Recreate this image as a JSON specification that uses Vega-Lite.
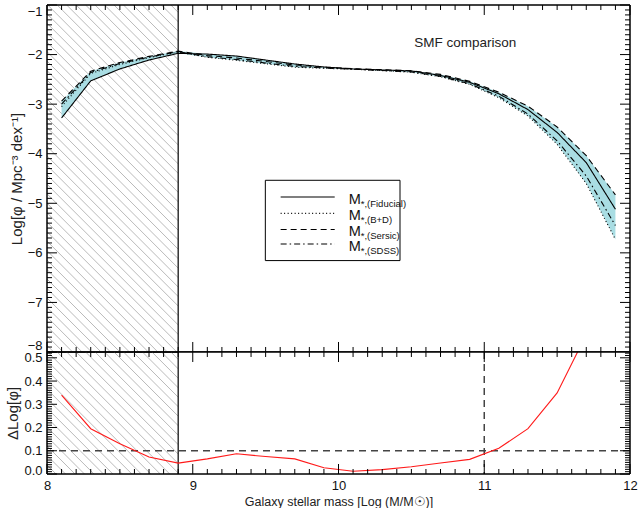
{
  "$schema": "https://vega.github.io/schema/vega-lite/v6.json",
  "background": "white",
  "padding": {"left": 5, "top": 4, "right": 8, "bottom": 0},
  "spacing": 0,
  "bounds": "flush",
  "config": {
    "font": "Liberation Sans",
    "view": {"stroke": null},
    "axis": {
      "domain": false,
      "ticks": false,
      "labelFont": "Liberation Sans",
      "labelFontSize": 13,
      "labelColor": "#111",
      "titleFont": "Liberation Sans",
      "titleFontSize": 15,
      "titleFontWeight": "normal",
      "titleColor": "#222",
      "grid": false,
      "labelOverlap": false,
      "labelFlush": false
    },
    "rule": {"color": "#000", "strokeWidth": 1}
  },
  "datasets": {
    "smf": [
      {"mass": 8.1, "model": "Fiducial", "logphi": -3.28},
      {"mass": 8.3, "model": "Fiducial", "logphi": -2.53},
      {"mass": 8.5, "model": "Fiducial", "logphi": -2.29},
      {"mass": 8.7, "model": "Fiducial", "logphi": -2.11},
      {"mass": 8.9, "model": "Fiducial", "logphi": -1.975},
      {"mass": 9.1, "model": "Fiducial", "logphi": -1.99},
      {"mass": 9.3, "model": "Fiducial", "logphi": -2.03},
      {"mass": 9.5, "model": "Fiducial", "logphi": -2.11},
      {"mass": 9.7, "model": "Fiducial", "logphi": -2.19},
      {"mass": 9.9, "model": "Fiducial", "logphi": -2.25},
      {"mass": 10.1, "model": "Fiducial", "logphi": -2.29},
      {"mass": 10.3, "model": "Fiducial", "logphi": -2.31},
      {"mass": 10.5, "model": "Fiducial", "logphi": -2.33},
      {"mass": 10.7, "model": "Fiducial", "logphi": -2.42},
      {"mass": 10.9, "model": "Fiducial", "logphi": -2.56},
      {"mass": 11.1, "model": "Fiducial", "logphi": -2.79},
      {"mass": 11.3, "model": "Fiducial", "logphi": -3.11},
      {"mass": 11.5, "model": "Fiducial", "logphi": -3.57},
      {"mass": 11.7, "model": "Fiducial", "logphi": -4.18},
      {"mass": 11.9, "model": "Fiducial", "logphi": -5.12},
      {"mass": 8.1, "model": "B+D", "logphi": -3.05},
      {"mass": 8.3, "model": "B+D", "logphi": -2.38},
      {"mass": 8.5, "model": "B+D", "logphi": -2.2},
      {"mass": 8.7, "model": "B+D", "logphi": -2.06},
      {"mass": 8.9, "model": "B+D", "logphi": -1.95},
      {"mass": 9.1, "model": "B+D", "logphi": -2.055},
      {"mass": 9.3, "model": "B+D", "logphi": -2.117},
      {"mass": 9.5, "model": "B+D", "logphi": -2.185},
      {"mass": 9.7, "model": "B+D", "logphi": -2.255},
      {"mass": 9.9, "model": "B+D", "logphi": -2.277},
      {"mass": 10.1, "model": "B+D", "logphi": -2.297},
      {"mass": 10.3, "model": "B+D", "logphi": -2.324},
      {"mass": 10.5, "model": "B+D", "logphi": -2.356},
      {"mass": 10.7, "model": "B+D", "logphi": -2.447},
      {"mass": 10.9, "model": "B+D", "logphi": -2.6},
      {"mass": 11.1, "model": "B+D", "logphi": -2.87},
      {"mass": 11.3, "model": "B+D", "logphi": -3.24},
      {"mass": 11.5, "model": "B+D", "logphi": -3.81},
      {"mass": 11.7, "model": "B+D", "logphi": -4.6},
      {"mass": 11.9, "model": "B+D", "logphi": -5.73},
      {"mass": 8.1, "model": "Sersic", "logphi": -2.94},
      {"mass": 8.3, "model": "Sersic", "logphi": -2.335},
      {"mass": 8.5, "model": "Sersic", "logphi": -2.16},
      {"mass": 8.7, "model": "Sersic", "logphi": -2.037},
      {"mass": 8.9, "model": "Sersic", "logphi": -1.93},
      {"mass": 9.1, "model": "Sersic", "logphi": -2.02},
      {"mass": 9.3, "model": "Sersic", "logphi": -2.07},
      {"mass": 9.5, "model": "Sersic", "logphi": -2.14},
      {"mass": 9.7, "model": "Sersic", "logphi": -2.21},
      {"mass": 9.9, "model": "Sersic", "logphi": -2.255},
      {"mass": 10.1, "model": "Sersic", "logphi": -2.285},
      {"mass": 10.3, "model": "Sersic", "logphi": -2.305},
      {"mass": 10.5, "model": "Sersic", "logphi": -2.325},
      {"mass": 10.7, "model": "Sersic", "logphi": -2.4},
      {"mass": 10.9, "model": "Sersic", "logphi": -2.54},
      {"mass": 11.1, "model": "Sersic", "logphi": -2.76},
      {"mass": 11.3, "model": "Sersic", "logphi": -3.04},
      {"mass": 11.5, "model": "Sersic", "logphi": -3.46},
      {"mass": 11.7, "model": "Sersic", "logphi": -4.04},
      {"mass": 11.9, "model": "Sersic", "logphi": -4.83},
      {"mass": 8.1, "model": "SDSS", "logphi": -3.0},
      {"mass": 8.3, "model": "SDSS", "logphi": -2.36},
      {"mass": 8.5, "model": "SDSS", "logphi": -2.18},
      {"mass": 8.7, "model": "SDSS", "logphi": -2.05},
      {"mass": 8.9, "model": "SDSS", "logphi": -1.94},
      {"mass": 9.1, "model": "SDSS", "logphi": -2.045},
      {"mass": 9.3, "model": "SDSS", "logphi": -2.1},
      {"mass": 9.5, "model": "SDSS", "logphi": -2.17},
      {"mass": 9.7, "model": "SDSS", "logphi": -2.24},
      {"mass": 9.9, "model": "SDSS", "logphi": -2.27},
      {"mass": 10.1, "model": "SDSS", "logphi": -2.295},
      {"mass": 10.3, "model": "SDSS", "logphi": -2.32},
      {"mass": 10.5, "model": "SDSS", "logphi": -2.35},
      {"mass": 10.7, "model": "SDSS", "logphi": -2.44},
      {"mass": 10.9, "model": "SDSS", "logphi": -2.59},
      {"mass": 11.1, "model": "SDSS", "logphi": -2.84},
      {"mass": 11.3, "model": "SDSS", "logphi": -3.2},
      {"mass": 11.5, "model": "SDSS", "logphi": -3.74},
      {"mass": 11.7, "model": "SDSS", "logphi": -4.45},
      {"mass": 11.9, "model": "SDSS", "logphi": -5.45}
    ],
    "delta": [
      {"mass": 8.1, "dlog": 0.339},
      {"mass": 8.3, "dlog": 0.195},
      {"mass": 8.5, "dlog": 0.13},
      {"mass": 8.7, "dlog": 0.073},
      {"mass": 8.9, "dlog": 0.047},
      {"mass": 9.1, "dlog": 0.065},
      {"mass": 9.3, "dlog": 0.087},
      {"mass": 9.5, "dlog": 0.075},
      {"mass": 9.7, "dlog": 0.065},
      {"mass": 9.9, "dlog": 0.027},
      {"mass": 10.1, "dlog": 0.012},
      {"mass": 10.3, "dlog": 0.019},
      {"mass": 10.5, "dlog": 0.031},
      {"mass": 10.7, "dlog": 0.047},
      {"mass": 10.9, "dlog": 0.063},
      {"mass": 11.1, "dlog": 0.111},
      {"mass": 11.3, "dlog": 0.195},
      {"mass": 11.5, "dlog": 0.349},
      {"mass": 11.7, "dlog": 0.6}
    ],
    "hatch": [
      {"h": 5.6}, {"h": 5.665}, {"h": 5.73}, {"h": 5.795}, {"h": 5.86}, {"h": 5.925}, {"h": 5.99},
      {"h": 6.055}, {"h": 6.12}, {"h": 6.185}, {"h": 6.25}, {"h": 6.315}, {"h": 6.38}, {"h": 6.445},
      {"h": 6.51}, {"h": 6.575}, {"h": 6.64}, {"h": 6.705}, {"h": 6.77}, {"h": 6.835}, {"h": 6.9},
      {"h": 6.965}, {"h": 7.03}, {"h": 7.095}, {"h": 7.16}, {"h": 7.225}, {"h": 7.29}, {"h": 7.355},
      {"h": 7.42}, {"h": 7.485}, {"h": 7.55}, {"h": 7.615}, {"h": 7.68}, {"h": 7.745}, {"h": 7.81},
      {"h": 7.875}, {"h": 7.94}, {"h": 8.005}, {"h": 8.07}, {"h": 8.135}, {"h": 8.2}, {"h": 8.265},
      {"h": 8.33}, {"h": 8.395}, {"h": 8.46}, {"h": 8.525}, {"h": 8.59}, {"h": 8.655}, {"h": 8.72},
      {"h": 8.785}, {"h": 8.85}
    ],
    "xmaj": [{"v": 8}, {"v": 9}, {"v": 10}, {"v": 11}, {"v": 12}],
    "xmin": [
      {"v": 8.1}, {"v": 8.2}, {"v": 8.3}, {"v": 8.4}, {"v": 8.5}, {"v": 8.6}, {"v": 8.7}, {"v": 8.8}, {"v": 8.9},
      {"v": 9.1}, {"v": 9.2}, {"v": 9.3}, {"v": 9.4}, {"v": 9.5}, {"v": 9.6}, {"v": 9.7}, {"v": 9.8}, {"v": 9.9},
      {"v": 10.1}, {"v": 10.2}, {"v": 10.3}, {"v": 10.4}, {"v": 10.5}, {"v": 10.6}, {"v": 10.7}, {"v": 10.8}, {"v": 10.9},
      {"v": 11.1}, {"v": 11.2}, {"v": 11.3}, {"v": 11.4}, {"v": 11.5}, {"v": 11.6}, {"v": 11.7}, {"v": 11.8}, {"v": 11.9}
    ],
    "ymaj": [{"v": -1}, {"v": -2}, {"v": -3}, {"v": -4}, {"v": -5}, {"v": -6}, {"v": -7}, {"v": -8}],
    "ymin": [
      {"v": -1.1}, {"v": -1.2}, {"v": -1.3}, {"v": -1.4}, {"v": -1.5}, {"v": -1.6}, {"v": -1.7}, {"v": -1.8}, {"v": -1.9},
      {"v": -2.1}, {"v": -2.2}, {"v": -2.3}, {"v": -2.4}, {"v": -2.5}, {"v": -2.6}, {"v": -2.7}, {"v": -2.8}, {"v": -2.9},
      {"v": -3.1}, {"v": -3.2}, {"v": -3.3}, {"v": -3.4}, {"v": -3.5}, {"v": -3.6}, {"v": -3.7}, {"v": -3.8}, {"v": -3.9},
      {"v": -4.1}, {"v": -4.2}, {"v": -4.3}, {"v": -4.4}, {"v": -4.5}, {"v": -4.6}, {"v": -4.7}, {"v": -4.8}, {"v": -4.9},
      {"v": -5.1}, {"v": -5.2}, {"v": -5.3}, {"v": -5.4}, {"v": -5.5}, {"v": -5.6}, {"v": -5.7}, {"v": -5.8}, {"v": -5.9},
      {"v": -6.1}, {"v": -6.2}, {"v": -6.3}, {"v": -6.4}, {"v": -6.5}, {"v": -6.6}, {"v": -6.7}, {"v": -6.8}, {"v": -6.9},
      {"v": -7.1}, {"v": -7.2}, {"v": -7.3}, {"v": -7.4}, {"v": -7.5}, {"v": -7.6}, {"v": -7.7}, {"v": -7.8}, {"v": -7.9}
    ],
    "dmaj": [{"v": 0}, {"v": 0.1}, {"v": 0.2}, {"v": 0.3}, {"v": 0.4}, {"v": 0.5}],
    "dmin": [
      {"v": 0.01}, {"v": 0.02}, {"v": 0.03}, {"v": 0.04}, {"v": 0.05}, {"v": 0.06}, {"v": 0.07}, {"v": 0.08}, {"v": 0.09},
      {"v": 0.11}, {"v": 0.12}, {"v": 0.13}, {"v": 0.14}, {"v": 0.15}, {"v": 0.16}, {"v": 0.17}, {"v": 0.18}, {"v": 0.19},
      {"v": 0.21}, {"v": 0.22}, {"v": 0.23}, {"v": 0.24}, {"v": 0.25}, {"v": 0.26}, {"v": 0.27}, {"v": 0.28}, {"v": 0.29},
      {"v": 0.31}, {"v": 0.32}, {"v": 0.33}, {"v": 0.34}, {"v": 0.35}, {"v": 0.36}, {"v": 0.37}, {"v": 0.38}, {"v": 0.39},
      {"v": 0.41}, {"v": 0.42}, {"v": 0.43}, {"v": 0.44}, {"v": 0.45}, {"v": 0.46}, {"v": 0.47}, {"v": 0.48}, {"v": 0.49},
      {"v": 0.51}, {"v": 0.52}
    ]
  },
  "vconcat": [
    {
      "width": 583,
      "height": 347,
      "layer": [
        {
          "data": {"name": "hatch"},
          "mark": {"type": "rule", "clip": true, "color": "#a8a8a8", "strokeWidth": 0.8, "x2Offset": 347},
          "encoding": {
            "x": {"field": "h", "type": "quantitative"},
            "x2": {"field": "h"},
            "y": {"datum": -1, "type": "quantitative"},
            "y2": {"datum": -8}
          }
        },
        {
          "data": {"values": [{}]},
          "mark": {"type": "rect", "color": "white"},
          "encoding": {
            "x": {"datum": 8.9, "type": "quantitative"},
            "x2": {"datum": 12},
            "y": {"datum": -8, "type": "quantitative"},
            "y2": {"datum": -1}
          }
        },
        {
          "data": {"name": "smf"},
          "transform": [
            {"aggregate": [{"op": "min", "field": "logphi", "as": "lo"}, {"op": "max", "field": "logphi", "as": "hi"}], "groupby": ["mass"]}
          ],
          "mark": {"type": "area", "color": "#a9dde3"},
          "encoding": {
            "x": {"field": "mass", "type": "quantitative"},
            "y": {"field": "lo", "type": "quantitative"},
            "y2": {"field": "hi"}
          }
        },
        {
          "data": {"name": "smf"},
          "mark": {"type": "line", "color": "#000", "strokeWidth": 1.1},
          "encoding": {
            "x": {"field": "mass", "type": "quantitative",
              "scale": {"domain": [8, 12], "nice": false, "zero": false},
              "axis": {"labels": false, "title": null, "tickCount": 4}},
            "y": {"field": "logphi", "type": "quantitative",
              "scale": {"domain": [-8, -1], "nice": false, "zero": false},
              "axis": {"title": "Log[φ / Mpc⁻³ dex⁻¹]", "tickCount": 7, "format": "d",
                "labelPadding": 5, "labelFlush": true, "titlePadding": 3}},
            "strokeDash": {"field": "model", "type": "nominal",
              "scale": {"domain": ["Fiducial", "B+D", "Sersic", "SDSS"], "range": [[1, 0], [1, 2.5], [6, 4], [6, 3, 1.5, 3]]},
              "legend": null}
          }
        },
        {
          "data": {"values": [{}]},
          "mark": {"type": "rule", "strokeWidth": 1.2},
          "encoding": {"x": {"datum": 8.9, "type": "quantitative"}}
        },
        {"data": {"name": "xmaj"}, "mark": {"type": "rule"},
          "encoding": {"x": {"field": "v", "type": "quantitative"}, "y": {"datum": -8, "type": "quantitative"}, "y2": {"datum": -7.798}}},
        {"data": {"name": "xmin"}, "mark": {"type": "rule"},
          "encoding": {"x": {"field": "v", "type": "quantitative"}, "y": {"datum": -8, "type": "quantitative"}, "y2": {"datum": -7.899}}},
        {"data": {"name": "xmaj"}, "mark": {"type": "rule"},
          "encoding": {"x": {"field": "v", "type": "quantitative"}, "y": {"datum": -1, "type": "quantitative"}, "y2": {"datum": -1.2016}}},
        {"data": {"name": "xmin"}, "mark": {"type": "rule"},
          "encoding": {"x": {"field": "v", "type": "quantitative"}, "y": {"datum": -1, "type": "quantitative"}, "y2": {"datum": -1.1008}}},
        {"data": {"name": "ymaj"}, "mark": {"type": "rule"},
          "encoding": {"y": {"field": "v", "type": "quantitative"}, "x": {"datum": 8, "type": "quantitative"}, "x2": {"datum": 8.0686}}},
        {"data": {"name": "ymin"}, "mark": {"type": "rule"},
          "encoding": {"y": {"field": "v", "type": "quantitative"}, "x": {"datum": 8, "type": "quantitative"}, "x2": {"datum": 8.0343}}},
        {"data": {"name": "ymaj"}, "mark": {"type": "rule"},
          "encoding": {"y": {"field": "v", "type": "quantitative"}, "x": {"datum": 12, "type": "quantitative"}, "x2": {"datum": 11.9314}}},
        {"data": {"name": "ymin"}, "mark": {"type": "rule"},
          "encoding": {"y": {"field": "v", "type": "quantitative"}, "x": {"datum": 12, "type": "quantitative"}, "x2": {"datum": 11.9657}}},
        {"data": {"values": [{}]}, "mark": {"type": "rule", "strokeWidth": 1.5},
          "encoding": {"x": {"datum": 8, "type": "quantitative"}, "y": {"datum": -8, "type": "quantitative"}, "y2": {"datum": -1}}},
        {"data": {"values": [{}]}, "mark": {"type": "rule", "strokeWidth": 1.5},
          "encoding": {"x": {"datum": 12, "type": "quantitative"}, "y": {"datum": -8, "type": "quantitative"}, "y2": {"datum": -1}}},
        {"data": {"values": [{}]}, "mark": {"type": "rule", "strokeWidth": 1.5},
          "encoding": {"x": {"datum": 8, "type": "quantitative"}, "x2": {"datum": 12}, "y": {"datum": -1, "type": "quantitative"}}},
        {"data": {"values": [{}]}, "mark": {"type": "rule", "strokeWidth": 1.5},
          "encoding": {"x": {"datum": 8, "type": "quantitative"}, "x2": {"datum": 12}, "y": {"datum": -8, "type": "quantitative"}}},
        {
          "data": {"values": [{}]},
          "mark": {"type": "text", "text": "SMF comparison", "fontSize": 13.5, "align": "left", "baseline": "middle", "color": "#222"},
          "encoding": {"x": {"datum": 10.52, "type": "quantitative"}, "y": {"datum": -1.76, "type": "quantitative"}}
        },
        {
          "data": {"values": [{}]},
          "mark": {"type": "rect", "fill": "white", "stroke": "#000", "strokeWidth": 1},
          "encoding": {
            "x": {"datum": 9.498, "type": "quantitative"},
            "x2": {"datum": 10.422},
            "y": {"datum": -4.536, "type": "quantitative"},
            "y2": {"datum": -6.156}
          }
        },
        {"data": {"values": [{}]}, "mark": {"type": "rule", "strokeWidth": 1.1},
          "encoding": {"x": {"datum": 9.603, "type": "quantitative"}, "x2": {"datum": 9.974}, "y": {"datum": -4.874, "type": "quantitative"}}},
        {"data": {"values": [{}]}, "mark": {"type": "rule", "strokeWidth": 1.1, "strokeDash": [1, 2.5]},
          "encoding": {"x": {"datum": 9.603, "type": "quantitative"}, "x2": {"datum": 9.974}, "y": {"datum": -5.204, "type": "quantitative"}}},
        {"data": {"values": [{}]}, "mark": {"type": "rule", "strokeWidth": 1.1, "strokeDash": [6, 4]},
          "encoding": {"x": {"datum": 9.603, "type": "quantitative"}, "x2": {"datum": 9.974}, "y": {"datum": -5.528, "type": "quantitative"}}},
        {"data": {"values": [{}]}, "mark": {"type": "rule", "strokeWidth": 1.1, "strokeDash": [6, 3, 1.5, 3]},
          "encoding": {"x": {"datum": 9.603, "type": "quantitative"}, "x2": {"datum": 9.974}, "y": {"datum": -5.82, "type": "quantitative"}}},
        {"data": {"values": [{}]}, "mark": {"type": "text", "text": "M", "fontSize": 14.5, "align": "left", "baseline": "middle", "dy": 3, "color": "#111"},
          "encoding": {"x": {"datum": 10.07, "type": "quantitative"}, "y": {"datum": -4.874, "type": "quantitative"}}},
        {"data": {"values": [{}]}, "mark": {"type": "text", "text": "M", "fontSize": 14.5, "align": "left", "baseline": "middle", "dy": 3, "color": "#111"},
          "encoding": {"x": {"datum": 10.07, "type": "quantitative"}, "y": {"datum": -5.204, "type": "quantitative"}}},
        {"data": {"values": [{}]}, "mark": {"type": "text", "text": "M", "fontSize": 14.5, "align": "left", "baseline": "middle", "dy": 3, "color": "#111"},
          "encoding": {"x": {"datum": 10.07, "type": "quantitative"}, "y": {"datum": -5.528, "type": "quantitative"}}},
        {"data": {"values": [{}]}, "mark": {"type": "text", "text": "M", "fontSize": 14.5, "align": "left", "baseline": "middle", "dy": 3, "color": "#111"},
          "encoding": {"x": {"datum": 10.07, "type": "quantitative"}, "y": {"datum": -5.82, "type": "quantitative"}}},
        {"data": {"values": [{}]}, "mark": {"type": "text", "text": "*,(Fiducial)", "fontSize": 9.5, "align": "left", "baseline": "middle", "dx": 12, "dy": 7, "color": "#111"},
          "encoding": {"x": {"datum": 10.07, "type": "quantitative"}, "y": {"datum": -4.874, "type": "quantitative"}}},
        {"data": {"values": [{}]}, "mark": {"type": "text", "text": "*,(B+D)", "fontSize": 9.5, "align": "left", "baseline": "middle", "dx": 12, "dy": 7, "color": "#111"},
          "encoding": {"x": {"datum": 10.07, "type": "quantitative"}, "y": {"datum": -5.204, "type": "quantitative"}}},
        {"data": {"values": [{}]}, "mark": {"type": "text", "text": "*,(Sersic)", "fontSize": 9.5, "align": "left", "baseline": "middle", "dx": 12, "dy": 7, "color": "#111"},
          "encoding": {"x": {"datum": 10.07, "type": "quantitative"}, "y": {"datum": -5.528, "type": "quantitative"}}},
        {"data": {"values": [{}]}, "mark": {"type": "text", "text": "*,(SDSS)", "fontSize": 9.5, "align": "left", "baseline": "middle", "dx": 12, "dy": 7, "color": "#111"},
          "encoding": {"x": {"datum": 10.07, "type": "quantitative"}, "y": {"datum": -5.82, "type": "quantitative"}}}
      ]
    },
    {
      "width": 583,
      "height": 122,
      "layer": [
        {
          "data": {"name": "hatch"},
          "mark": {"type": "rule", "clip": true, "color": "#a8a8a8", "strokeWidth": 0.8, "x2Offset": 122},
          "encoding": {
            "x": {"field": "h", "type": "quantitative"},
            "x2": {"field": "h"},
            "y": {"datum": 0.525, "type": "quantitative"},
            "y2": {"datum": 0}
          }
        },
        {
          "data": {"values": [{}]},
          "mark": {"type": "rect", "color": "white"},
          "encoding": {
            "x": {"datum": 8.9, "type": "quantitative"},
            "x2": {"datum": 12},
            "y": {"datum": 0, "type": "quantitative"},
            "y2": {"datum": 0.525}
          }
        },
        {
          "data": {"values": [{}]},
          "mark": {"type": "rule", "strokeWidth": 1.2},
          "encoding": {"x": {"datum": 8.9, "type": "quantitative"}}
        },
        {
          "data": {"values": [{}]},
          "mark": {"type": "rule", "color": "#444", "strokeWidth": 1.5, "strokeDash": [7, 5]},
          "encoding": {"y": {"datum": 0.1, "type": "quantitative"}}
        },
        {
          "data": {"values": [{}]},
          "mark": {"type": "rule", "color": "#444", "strokeWidth": 1.5, "strokeDash": [7, 5]},
          "encoding": {"x": {"datum": 11, "type": "quantitative"}}
        },
        {
          "data": {"name": "delta"},
          "mark": {"type": "line", "color": "#ff1a1a", "strokeWidth": 1.1, "clip": true},
          "encoding": {
            "x": {"field": "mass", "type": "quantitative",
              "scale": {"domain": [8, 12], "nice": false, "zero": false},
              "axis": {"title": "Galaxy stellar mass [Log (M/M☉)]", "tickCount": 4,
                "format": "d", "labelPadding": 5, "titlePadding": 3, "titleFontSize": 12.5}},
            "y": {"field": "dlog", "type": "quantitative",
              "scale": {"domain": [0, 0.525], "nice": false, "zero": false},
              "axis": {"title": "ΔLog[φ]", "tickCount": 5,
                "format": ".1f", "labelPadding": 5, "titlePadding": 3,
                "labelOffset": {"condition": {"test": "datum.value === 0", "value": -4}, "value": 0}}}
          }
        },
        {"data": {"name": "xmaj"}, "mark": {"type": "rule"},
          "encoding": {"x": {"field": "v", "type": "quantitative"}, "y": {"datum": 0, "type": "quantitative"}, "y2": {"datum": 0.043}}},
        {"data": {"name": "xmin"}, "mark": {"type": "rule"},
          "encoding": {"x": {"field": "v", "type": "quantitative"}, "y": {"datum": 0, "type": "quantitative"}, "y2": {"datum": 0.0215}}},
        {"data": {"name": "xmaj"}, "mark": {"type": "rule"},
          "encoding": {"x": {"field": "v", "type": "quantitative"}, "y": {"datum": 0.525, "type": "quantitative"}, "y2": {"datum": 0.482}}},
        {"data": {"name": "xmin"}, "mark": {"type": "rule"},
          "encoding": {"x": {"field": "v", "type": "quantitative"}, "y": {"datum": 0.525, "type": "quantitative"}, "y2": {"datum": 0.5035}}},
        {"data": {"name": "dmaj"}, "mark": {"type": "rule"},
          "encoding": {"y": {"field": "v", "type": "quantitative"}, "x": {"datum": 8, "type": "quantitative"}, "x2": {"datum": 8.0686}}},
        {"data": {"name": "dmin"}, "mark": {"type": "rule"},
          "encoding": {"y": {"field": "v", "type": "quantitative"}, "x": {"datum": 8, "type": "quantitative"}, "x2": {"datum": 8.0343}}},
        {"data": {"name": "dmaj"}, "mark": {"type": "rule"},
          "encoding": {"y": {"field": "v", "type": "quantitative"}, "x": {"datum": 12, "type": "quantitative"}, "x2": {"datum": 11.9314}}},
        {"data": {"name": "dmin"}, "mark": {"type": "rule"},
          "encoding": {"y": {"field": "v", "type": "quantitative"}, "x": {"datum": 12, "type": "quantitative"}, "x2": {"datum": 11.9657}}},
        {"data": {"values": [{}]}, "mark": {"type": "rule", "strokeWidth": 1.5},
          "encoding": {"x": {"datum": 8, "type": "quantitative"}, "y": {"datum": 0, "type": "quantitative"}, "y2": {"datum": 0.525}}},
        {"data": {"values": [{}]}, "mark": {"type": "rule", "strokeWidth": 1.5},
          "encoding": {"x": {"datum": 12, "type": "quantitative"}, "y": {"datum": 0, "type": "quantitative"}, "y2": {"datum": 0.525}}},
        {"data": {"values": [{}]}, "mark": {"type": "rule", "strokeWidth": 1.5},
          "encoding": {"x": {"datum": 8, "type": "quantitative"}, "x2": {"datum": 12}, "y": {"datum": 0.525, "type": "quantitative"}}},
        {"data": {"values": [{}]}, "mark": {"type": "rule", "strokeWidth": 1.5},
          "encoding": {"x": {"datum": 8, "type": "quantitative"}, "x2": {"datum": 12}, "y": {"datum": 0, "type": "quantitative"}}}
      ]
    }
  ]
}
